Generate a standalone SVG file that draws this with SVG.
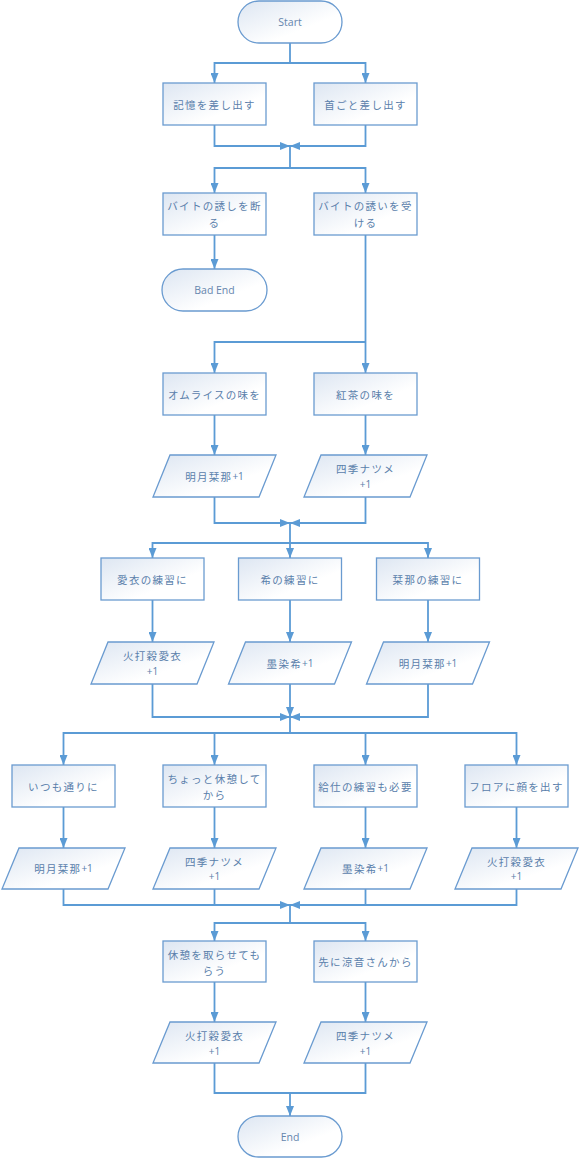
<svg xmlns="http://www.w3.org/2000/svg" width="580" height="1159" viewBox="0 0 580 1159">
<defs>
<linearGradient id="g" x1="0" y1="0" x2="1" y2="1">
<stop offset="0" stop-color="#dde6f2"/>
<stop offset="0.65" stop-color="#ffffff"/>
<stop offset="1" stop-color="#ffffff"/>
</linearGradient>
<marker id="a" viewBox="0 0 10 8" refX="10" refY="4" markerWidth="10" markerHeight="8" markerUnits="userSpaceOnUse" orient="auto">
<path d="M0,0 L10,4 L0,8 z" fill="#5b9bd5"/>
</marker>
</defs>
<style>
.s{fill:url(#g);stroke:#6a9bd0;stroke-width:1.3}
.t{font-family:"Noto Sans CJK JP","Noto Sans",sans-serif;font-size:10.5px;fill:#5a80ab;letter-spacing:1.3px;text-anchor:middle;dominant-baseline:central}
.l{font-family:"Open Sans","Noto Sans",sans-serif;font-size:10.5px;fill:#6585ad;text-anchor:middle;dominant-baseline:central}
.p{font-family:"Open Sans","Noto Sans",sans-serif;font-size:10px;letter-spacing:0}
#connectors path{fill:none;stroke:#5b9bd5;stroke-width:1.8}
.m{marker-end:url(#a)}
</style>
<g id="connectors">
<path class="m" d="M290 43 V63 H214.5 V83"/>
<path class="m" d="M290 63 H365.5 V83"/>
<path class="m" d="M214.5 125 V146 H290"/>
<path class="m" d="M365.5 125 V146 H290"/>
<path class="m" d="M290 146 V168 H214.5 V193"/>
<path class="m" d="M290 168 H365.5 V193"/>
<path class="m" d="M214.5 235 V269"/>
<path class="m" d="M365.5 235 V373"/>
<path class="m" d="M365.5 342 H214.5 V373"/>
<path class="m" d="M214.5 415 V455"/>
<path class="m" d="M365.5 415 V455"/>
<path class="m" d="M214.5 497 V523 H290"/>
<path class="m" d="M365.5 497 V523 H290"/>
<path class="m" d="M290 523 V558"/>
<path class="m" d="M290 543 H152.5 V558"/>
<path class="m" d="M290 543 H428 V558"/>
<path class="m" d="M152.5 600 V642"/>
<path class="m" d="M290 600 V642"/>
<path class="m" d="M428 600 V642"/>
<path class="m" d="M152.5 684 V717 H290"/>
<path class="m" d="M428 684 V717 H290"/>
<path class="m" d="M290 684 V717"/>
<path class="m" d="M290 717 V733 H63.5 V765"/>
<path class="m" d="M214.5 733 V765"/>
<path class="m" d="M365.5 733 V765"/>
<path class="m" d="M290 733 H516.5 V765"/>
<path class="m" d="M63.5 807 V848"/>
<path class="m" d="M214.5 807 V848"/>
<path class="m" d="M365.5 807 V848"/>
<path class="m" d="M516.5 807 V848"/>
<path class="m" d="M63.5 889 V905 H290"/>
<path d="M214.5 889 V905"/>
<path class="m" d="M516.5 889 V905 H290"/>
<path d="M365.5 889 V905"/>
<path class="m" d="M290 905 V923 H214.5 V941"/>
<path class="m" d="M290 923 H365.5 V941"/>
<path class="m" d="M214.5 982 V1022"/>
<path class="m" d="M365.5 982 V1022"/>
<path d="M214.5 1063 V1093 H365.5 V1063"/>
<path class="m" d="M290 1093 V1116"/>
</g>
<g id="start"><rect class="s" x="238" y="1" width="104" height="42" rx="21"/><text class="l" x="290" y="22">Start</text></g>
<g id="n1"><rect class="s" x="163" y="83" width="103" height="42"/><text class="t" x="214.5" y="104">記憶を差し出す</text></g>
<g id="n2"><rect class="s" x="314" y="83" width="103" height="42"/><text class="t" x="365.5" y="104">首ごと差し出す</text></g>
<g id="n3"><rect class="s" x="163" y="193" width="103" height="42"/><text class="t" x="214.5" y="205">バイトの誘しを断</text><text class="t" x="214.5" y="222">る</text></g>
<g id="n4"><rect class="s" x="314" y="193" width="103" height="42"/><text class="t" x="365.5" y="205">バイトの誘いを受</text><text class="t" x="365.5" y="222">ける</text></g>
<g id="badend"><rect class="s" x="162" y="269" width="105" height="42" rx="21"/><text class="l" x="214.5" y="290">Bad End</text></g>
<g id="n5"><rect class="s" x="163" y="373" width="103" height="42"/><text class="t" x="214.5" y="394">オムライスの味を</text></g>
<g id="n6"><rect class="s" x="314" y="373" width="103" height="42"/><text class="t" x="365.5" y="394">紅茶の味を</text></g>
<g id="p1"><polygon class="s" points="170,455 276,455 259,497 153,497"/><text class="t" x="214.5" y="476">明月栞那<tspan class="p">+1</tspan></text></g>
<g id="p2"><polygon class="s" points="321,455 427,455 410,497 304,497"/><text class="t" x="365.5" y="468">四季ナツメ</text><text class="t p" x="365.5" y="484">+1</text></g>
<g id="n7"><rect class="s" x="101" y="558" width="103" height="42"/><text class="t" x="152.5" y="579">愛衣の練習に</text></g>
<g id="n8"><rect class="s" x="238.5" y="558" width="103" height="42"/><text class="t" x="290" y="579">希の練習に</text></g>
<g id="n9"><rect class="s" x="376.5" y="558" width="103" height="42"/><text class="t" x="428" y="579">栞那の練習に</text></g>
<g id="p3"><polygon class="s" points="108,642 214,642 197,684 91,684"/><text class="t" x="152.5" y="655">火打穀愛衣</text><text class="t p" x="152.5" y="671">+1</text></g>
<g id="p4"><polygon class="s" points="245.5,642 351.5,642 334.5,684 228.5,684"/><text class="t" x="290" y="663">墨染希<tspan class="p">+1</tspan></text></g>
<g id="p5"><polygon class="s" points="383.5,642 489.5,642 472.5,684 366.5,684"/><text class="t" x="428" y="663">明月栞那<tspan class="p">+1</tspan></text></g>
<g id="n10"><rect class="s" x="12" y="765" width="103" height="42"/><text class="t" x="63.5" y="786">いつも通りに</text></g>
<g id="n11"><rect class="s" x="163" y="765" width="103" height="42"/><text class="t" x="214.5" y="778">ちょっと休憩して</text><text class="t" x="214.5" y="794">から</text></g>
<g id="n12"><rect class="s" x="314" y="765" width="103" height="42"/><text class="t" x="365.5" y="786">給仕の練習も必要</text></g>
<g id="n13"><rect class="s" x="465" y="765" width="103" height="42"/><text class="t" x="516.5" y="786">フロアに顔を出す</text></g>
<g id="p6"><polygon class="s" points="19,848 125,848 108,889 2,889"/><text class="t" x="63.5" y="868">明月栞那<tspan class="p">+1</tspan></text></g>
<g id="p7"><polygon class="s" points="170,848 276,848 259,889 153,889"/><text class="t" x="214.5" y="861">四季ナツメ</text><text class="t p" x="214.5" y="876">+1</text></g>
<g id="p8"><polygon class="s" points="321,848 427,848 410,889 304,889"/><text class="t" x="365.5" y="868">墨染希<tspan class="p">+1</tspan></text></g>
<g id="p9"><polygon class="s" points="472,848 578,848 561,889 455,889"/><text class="t" x="516.5" y="861">火打穀愛衣</text><text class="t p" x="516.5" y="876">+1</text></g>
<g id="n14"><rect class="s" x="163" y="941" width="103" height="41"/><text class="t" x="214.5" y="954">休憩を取らせても</text><text class="t" x="214.5" y="970">らう</text></g>
<g id="n15"><rect class="s" x="314" y="941" width="103" height="41"/><text class="t" x="365.5" y="961">先に涼音さんから</text></g>
<g id="p10"><polygon class="s" points="170,1022 276,1022 259,1063 153,1063"/><text class="t" x="214.5" y="1035">火打穀愛衣</text><text class="t p" x="214.5" y="1051">+1</text></g>
<g id="p11"><polygon class="s" points="321,1022 427,1022 410,1063 304,1063"/><text class="t" x="365.5" y="1035">四季ナツメ</text><text class="t p" x="365.5" y="1051">+1</text></g>
<g id="end"><rect class="s" x="238" y="1116" width="104" height="41" rx="20.5"/><text class="l" x="290" y="1137">End</text></g>
</svg>
